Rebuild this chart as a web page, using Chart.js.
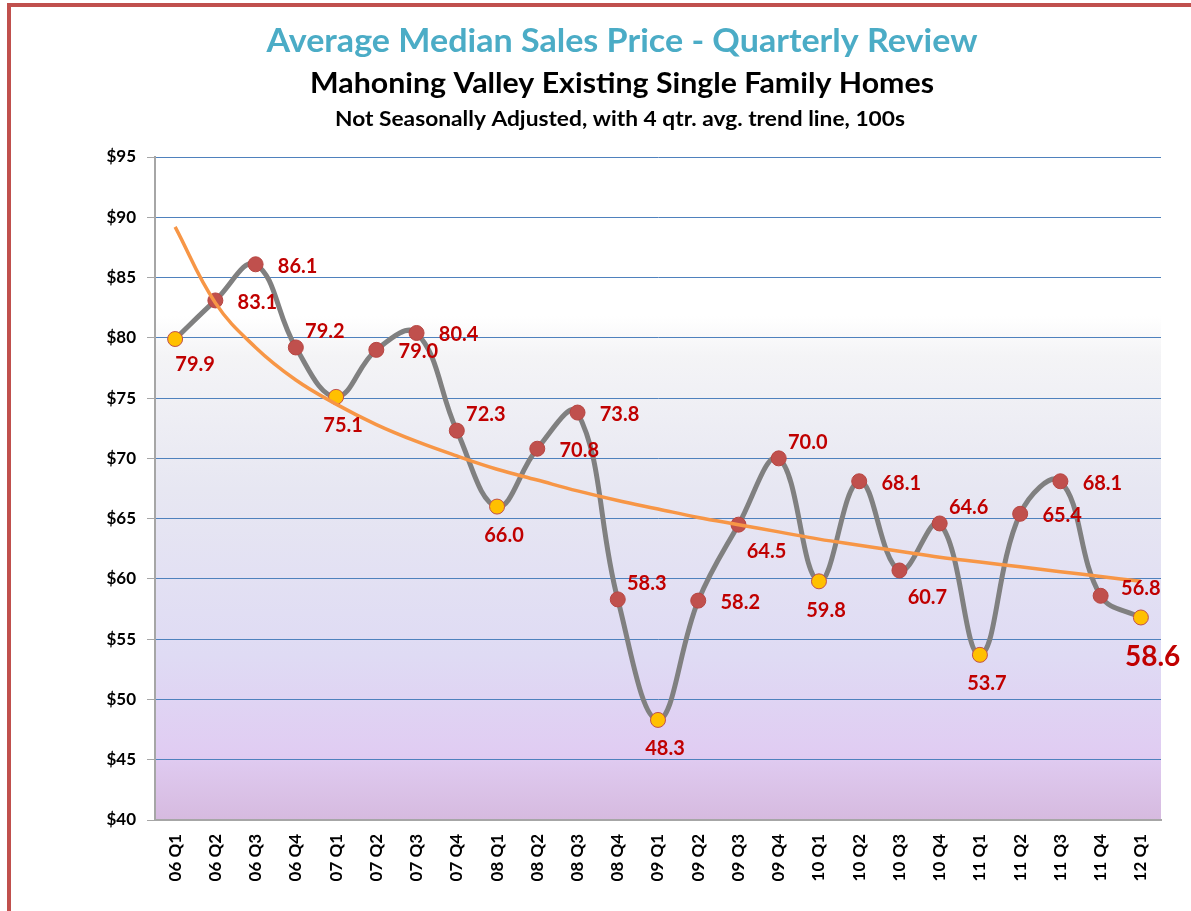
<!DOCTYPE html>
<html>
<head>
<meta charset="utf-8">
<script src="https://cdn.jsdelivr.net/npm/chart.js@4.4.1/dist/chart.umd.min.js"></script>
<style>
  html, body { margin: 0; padding: 0; background: #fff; }
  #wrap { width: 1191px; height: 911px; position: relative; }
</style>
</head>
<body>
<div id="wrap"><canvas id="priceChart" width="1191" height="911"></canvas></div>
<script>
// quarters shown on the x axis
const quarters = [
  '06 Q1', '06 Q2', '06 Q3', '06 Q4',
  '07 Q1', '07 Q2', '07 Q3', '07 Q4',
  '08 Q1', '08 Q2', '08 Q3', '08 Q4',
  '09 Q1', '09 Q2', '09 Q3', '09 Q4',
  '10 Q1', '10 Q2', '10 Q3', '10 Q4',
  '11 Q1', '11 Q2', '11 Q3', '11 Q4',
  '12 Q1'
];

// average median sales price, in $1000s
const medianPrice = [
  79.9, 83.1, 86.1, 79.2,
  75.1, 79.0, 80.4, 72.3,
  66.0, 70.8, 73.8, 58.3,
  48.3, 58.2, 64.5, 70.0,
  59.8, 68.1, 60.7, 64.6,
  53.7, 65.4, 68.1, 58.6,
  56.8
];

// trend line values
const trendLine = [
  89.2, 82.9, 79.2, 76.5,
  74.5, 72.8, 71.4, 70.2,
  69.1, 68.2, 67.3, 66.5,
  65.8, 65.1, 64.5, 63.9,
  63.3, 62.8, 62.3, 61.8,
  61.4, 61.0, 60.6, 60.2,
  59.8
];

const yTicks = [40, 45, 50, 55, 60, 65, 70, 75, 80, 85, 90, 95];

// where each value label sits next to its point
const labelPlacement = [
  'firstBelow', 'right', 'right', 'aboveRight',
  'below', 'right', 'right', 'aboveRight',
  'below', 'right', 'right', 'aboveRight',
  'below', 'right', 'belowRight', 'aboveRight',
  'below', 'right', 'belowRight', 'aboveRight',
  'below', 'right', 'right', 'callout',
  'above'
];

const placementOffsets = {
  right: [42, 2],
  below: [7, 29],
  firstBelow: [20, 26],
  aboveRight: [29, -16],
  belowRight: [28, 27],
  above: [0, -29],
  callout: [52, 61]
};

const FONT = 'Lato, "Open Sans", sans-serif';
const isQ1 = quarters.map(q => q.endsWith('Q1'));

// draw text centred at (cx, cy), stretched sideways to a given width
function stretchedText(ctx, text, cx, cy, width) {
  const w = ctx.measureText(text).width;
  ctx.save();
  ctx.translate(cx, cy);
  ctx.scale(width / w, 1);
  ctx.fillText(text, 0, 0);
  ctx.restore();
}

const backgroundPlugin = {
  id: 'plotBackground',
  beforeDraw(chart) {
    const { ctx, chartArea: a } = chart;
    const g = ctx.createLinearGradient(0, a.top, 0, a.bottom);
    g.addColorStop(0, '#ffffff');
    g.addColorStop(0.24, '#ffffff');
    g.addColorStop(0.3, '#f4f4f6');
    g.addColorStop(0.5, '#e7e7f2');
    g.addColorStop(0.75, '#dfdbf4');
    g.addColorStop(0.9, '#e0ccf2');
    g.addColorStop(1, '#d6badf');
    ctx.save();
    ctx.fillStyle = g;
    ctx.fillRect(a.left, a.top, a.right - a.left, a.bottom - a.top);
    ctx.restore();
  }
};

const decorPlugin = {
  id: 'decor',
  afterDraw(chart) {
    const ctx = chart.ctx;
    ctx.save();
    // page border
    ctx.fillStyle = '#c0504d';
    ctx.fillRect(7, 3, 1191, 4);
    ctx.fillRect(7, 3, 4, 911);

    // titles
    ctx.textAlign = 'center';
    ctx.textBaseline = 'middle';
    ctx.fillStyle = '#4bacc6';
    ctx.font = 'bold 32px ' + FONT;
    stretchedText(ctx, 'Average Median Sales Price - Quarterly Review', 622, 42, 711);
    ctx.fillStyle = '#000';
    ctx.font = 'bold 29px ' + FONT;
    stretchedText(ctx, 'Mahoning Valley Existing Single Family Homes', 622, 84, 624);
    ctx.font = 'bold 21px ' + FONT;
    stretchedText(ctx, 'Not Seasonally Adjusted, with 4 qtr. avg. trend line, 100s', 620, 119, 570);
    ctx.restore();
  }
};

const valueLabelPlugin = {
  id: 'valueLabels',
  afterDatasetsDraw(chart) {
    const ctx = chart.ctx;
    const meta = chart.getDatasetMeta(0);
    ctx.save();
    ctx.fillStyle = '#c00000';
    ctx.textAlign = 'center';
    ctx.textBaseline = 'middle';
    meta.data.forEach((pt, i) => {
      const place = labelPlacement[i];
      const off = placementOffsets[place];
      ctx.font = (place === 'callout' ? 'bold 28px ' : 'bold 20px ') + FONT;
      ctx.fillText(medianPrice[i].toFixed(1), pt.x + off[0], pt.y + off[1]);
    });
    ctx.restore();
  }
};

const ctx = document.getElementById('priceChart').getContext('2d');
new Chart(ctx, {
  type: 'line',
  data: {
    labels: quarters,
    datasets: [
      {
        label: 'Median Price',
        data: medianPrice,
        borderColor: '#808080',
        borderWidth: 5,
        tension: 0.4,
        pointRadius: 7.5,
        pointBackgroundColor: isQ1.map(q => q ? '#ffc000' : '#c0504d'),
        pointBorderColor: isQ1.map(q => q ? '#c0504d' : '#b84541'),
        pointBorderWidth: 1,
        order: 1
      },
      {
        label: '4 qtr. avg. trend',
        data: trendLine,
        borderColor: '#f79646',
        borderWidth: 3.5,
        tension: 0.4,
        pointRadius: 0,
        order: 0
      }
    ]
  },
  options: {
    responsive: false,
    animation: false,
    layout: { padding: { top: 157, right: 30, left: 0, bottom: 0 } },
    plugins: {
      legend: { display: false },
      tooltip: { enabled: false }
    },
    scales: {
      x: {
        offset: true,
        grid: { display: false, drawTicks: false },
        border: { display: true, color: '#a6a6a6', width: 2 },
        ticks: {
          color: '#000',
          font: { family: FONT, size: 17, weight: 'bold' },
          minRotation: 90,
          maxRotation: 90,
          padding: 14,
          autoSkip: false
        },
        afterFit(scale) { scale.height = 91; }
      },
      y: {
        min: 40,
        max: 95,
        afterBuildTicks(scale) {
          scale.ticks = yTicks.map(v => ({ value: v }));
        },
        grid: {
          color: '#4f81bd',
          lineWidth: 1,
          tickColor: '#a6a6a6',
          tickLength: 8
        },
        border: { display: true, color: '#a6a6a6', width: 2 },
        ticks: {
          color: '#000',
          padding: 11,
          font: { family: FONT, size: 17, weight: 'bold' },
          callback: v => '$' + v
        },
        afterFit(scale) { scale.width = 155; }
      }
    }
  },
  plugins: [backgroundPlugin, valueLabelPlugin, decorPlugin]
});
</script>
</body>
</html>
